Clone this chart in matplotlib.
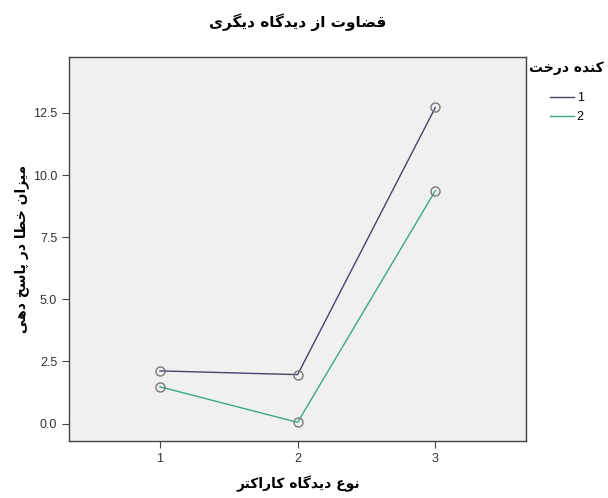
import matplotlib
matplotlib.use("Agg")
import matplotlib.pyplot as plt
from matplotlib.lines import Line2D

# presentation forms: isolated, final, initial, medial (None for right-joining)
FORMS = {
    "\u0627": ("\uFE8D", "\uFE8E", None, None),
    "\u062A": ("\uFE95", "\uFE96", "\uFE97", "\uFE98"),
    "\u062E": ("\uFEA5", "\uFEA6", "\uFEA7", "\uFEA8"),
    "\u062F": ("\uFEA9", "\uFEAA", None, None),
    "\u0631": ("\uFEAD", "\uFEAE", None, None),
    "\u0632": ("\uFEAF", "\uFEB0", None, None),
    "\u0633": ("\uFEB1", "\uFEB2", "\uFEB3", "\uFEB4"),
    "\u0636": ("\uFEBD", "\uFEBE", "\uFEBF", "\uFEC0"),
    "\u0637": ("\uFEC1", "\uFEC2", "\uFEC3", "\uFEC4"),
    "\u0639": ("\uFEC9", "\uFECA", "\uFECB", "\uFECC"),
    "\u0642": ("\uFED5", "\uFED6", "\uFED7", "\uFED8"),
    "\u0645": ("\uFEE1", "\uFEE2", "\uFEE3", "\uFEE4"),
    "\u0646": ("\uFEE5", "\uFEE6", "\uFEE7", "\uFEE8"),
    "\u0647": ("\uFEE9", "\uFEEA", "\uFEEB", "\uFEEC"),
    "\u0648": ("\uFEED", "\uFEEE", None, None),
    "\u067E": ("\uFB56", "\uFB57", "\uFB58", "\uFB59"),
    "\u06A9": ("\uFB8E", "\uFB8F", "\uFB90", "\uFB91"),
    "\u06AF": ("\uFB92", "\uFB93", "\uFB94", "\uFB95"),
    "\u06CC": ("\uFBFC", "\uFBFD", "\uFBFE", "\uFBFF"),
}


def fa(text):
    # tiny shaper + reverse for right-to-left display
    out = []
    n = len(text)
    for i, ch in enumerate(text):
        if ch not in FORMS:
            out.append(ch)
            continue
        prev = text[i - 1] if i > 0 else ""
        nxt = text[i + 1] if i < n - 1 else ""
        joins_prev = prev in FORMS and FORMS[prev][2] is not None
        joins_next = nxt in FORMS and FORMS[ch][2] is not None
        iso, fin, ini, med = FORMS[ch]
        if joins_prev and joins_next:
            out.append(med)
        elif joins_prev:
            out.append(fin)
        elif joins_next:
            out.append(ini)
        else:
            out.append(iso)
    return "".join(out[::-1])


title = "قضاوت از دیدگاه دیگری"
xlabel = "نوع دیدگاه کاراکتر"
ylabel = "میزان خطا در پاسخ دهی"
legend_title = "کنده درخت"

x = [1, 2, 3]
series_names = ["1", "2"]
series1 = [2.12, 1.97, 12.72]
series2 = [1.48, 0.05, 9.37]
colors = ["#45456a", "#3aa88a"]

fig = plt.figure(figsize=(6.08, 4.98), dpi=100)
ax = fig.add_axes([0.1135, 0.1145, 0.752, 0.771])
ax.set_facecolor("#f0f0f0")

for ys, c in zip([series1, series2], colors):
    ax.plot(x, ys, color=c, lw=1.0, marker="o", ms=6.5,
            mfc="none", mec="#7a7a7a", mew=1.0)

ax.set_xlim(0.34, 3.66)
ax.set_ylim(-0.7, 14.75)
ax.set_xticks(x)
ax.set_yticks([0.0, 2.5, 5.0, 7.5, 10.0, 12.5])
ax.set_yticklabels(["0.0", "2.5", "5.0", "7.5", "10.0", "12.5"])
ax.tick_params(direction="out", length=5, width=0.8, colors="#444444",
               labelsize=9, labelcolor="#333333")
for lab in ax.get_xticklabels() + ax.get_yticklabels():
    lab.set_family("Liberation Sans")
for s in ax.spines.values():
    s.set_color("#444444")
    s.set_linewidth(1.0)

bold = dict(family="DejaVu Sans", fontweight="bold", color="black")
fig.text(0.49, 0.955, fa(title), ha="center", va="center", fontsize=11, **bold)
fig.text(0.49, 0.028, fa(xlabel), ha="center", va="center", fontsize=10, **bold)
fig.text(0.036, 0.5, fa(ylabel), ha="center", va="center", rotation=90,
         fontsize=10, **bold)

# legend title drawn separately so the rows can sit lower
fig.text(0.932, 1 - 68 / 498, fa(legend_title), ha="center", va="center",
         fontsize=10, **bold)
handles = [Line2D([0], [0], color=c, lw=1.0) for c in colors]
leg = fig.legend(handles, series_names, loc="upper left",
                 bbox_to_anchor=(0.895, 1 - 86 / 498), frameon=False,
                 prop=dict(family="Liberation Sans", size=9),
                 handlelength=1.9, handletextpad=0.2, labelspacing=0.55,
                 borderpad=0.0)

fig.savefig("out.png", dpi=100, facecolor="white")
